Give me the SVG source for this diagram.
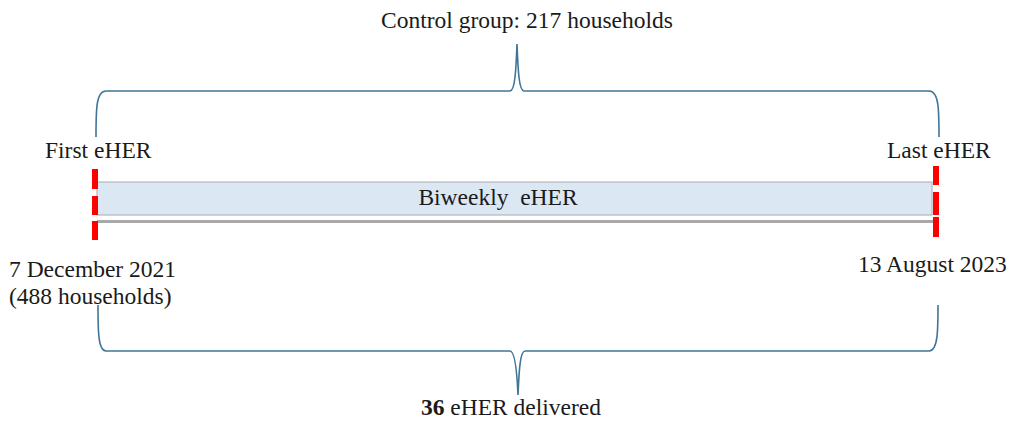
<svg xmlns="http://www.w3.org/2000/svg" width="1010" height="424" viewBox="0 0 1010 424">
  <style>
    text { font-family: "Liberation Serif", "Times New Roman", serif; font-size: 23.5px; fill: #1a1a1a; }
    .brace { fill: none; stroke: #3f7597; stroke-width: 1.6; }
    .tick { fill: #ff0000; }
  </style>
  <rect width="1010" height="424" fill="#ffffff"/>

  <!-- braces -->
  <g id="connectors">
    <path class="brace" d="M96,137 C96,110 96,91 106,91 L510,91 C515,91 516,70 517,44 C518,70 519,91 524,91 L929,91 C939,91 939,110 939,137"/>
    <path class="brace" d="M98,305 C98,330 98,351 106,351 L510,351 C515,351 517,372 518,395 C519,372 520,351 525,351 L929,351 C938,351 938,330 938,305"/>
  </g>

  <g id="control-label">
    <text x="527" y="28" text-anchor="middle">Control group: 217 households</text>
  </g>

  <g id="timeline">
    <rect x="97" y="182" width="835" height="33" fill="#dce7f4" stroke="#b3b7bb" stroke-width="1.2"/>
    <rect x="97" y="220" width="836" height="3" fill="#a9a9a9"/>
    <text x="498" y="205" text-anchor="middle" style="white-space:pre">Biweekly  eHER</text>
  </g>

  <g id="start-marker">
    <rect class="tick" x="92" y="169" width="6" height="20"/>
    <rect class="tick" x="92" y="196" width="6" height="19"/>
    <rect class="tick" x="92" y="221" width="6" height="19"/>
    <text x="45" y="158">First eHER</text>
    <text x="9" y="277">7 December 2021</text>
    <text x="9" y="304">(488 households)</text>
  </g>

  <g id="end-marker">
    <rect class="tick" x="933" y="166" width="6" height="19"/>
    <rect class="tick" x="933" y="192" width="6" height="23"/>
    <rect class="tick" x="933" y="217" width="6" height="20"/>
    <text x="887" y="158">Last eHER</text>
    <text x="858" y="272">13 August 2023</text>
  </g>

  <g id="delivered-label">
    <text x="511" y="415" text-anchor="middle"><tspan font-weight="bold">36</tspan> eHER delivered</text>
  </g>
</svg>
